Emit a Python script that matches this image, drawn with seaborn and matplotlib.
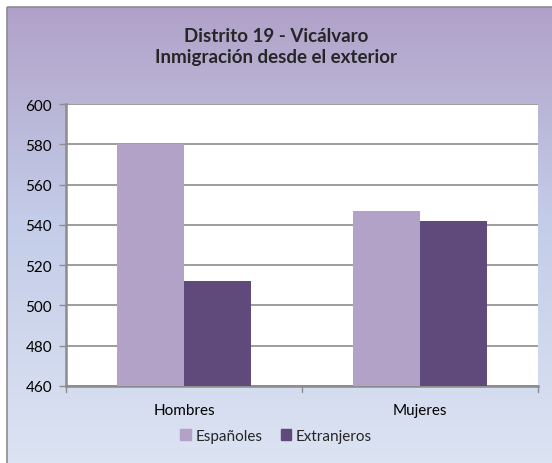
import matplotlib
matplotlib.use("Agg")
from matplotlib import pyplot as plt
from matplotlib.patches import Rectangle
import matplotlib.colors as mcolors
import numpy as np
import pandas as pd
import seaborn as sns

# datos
categorias = ["Hombres", "Mujeres"]
espanoles = [580, 547]
extranjeros = [512, 542]
series = ["Españoles", "Extranjeros"]
colores = ["#B3A2C7", "#604A7B"]

df = pd.DataFrame({
    "sexo": categorias * 2,
    "origen": [series[0]] * 2 + [series[1]] * 2,
    "valor": espanoles + extranjeros,
})

sns.set_style("white")
plt.rcParams["font.family"] = ["Lato", "DejaVu Sans"]

W, H = 552, 464
fig = plt.figure(figsize=(W / 100, H / 100), dpi=100)
fig.patch.set_facecolor("white")

# fondo degradado del grafico
bg = fig.add_axes([0, 0, 1, 1], zorder=-1)
cmap = mcolors.LinearSegmentedColormap.from_list(
    "fondo", [(0, "#B1A1C8"), (0.45, "#C3CCE8"), (1, "#DDE4F3")])
grad = np.linspace(0, 1, 256).reshape(-1, 1)
bg.imshow(grad, aspect="auto", cmap=cmap, extent=[7, W + 10, H + 10, 8])
bg.add_patch(Rectangle((7, 8), W, H, fill=False, edgecolor="#8C8C8C", lw=1.2))
bg.set_xlim(0, W)
bg.set_ylim(H, 0)
bg.axis("off")

# area de trazado (pixeles: izq 66, der 538, arriba 105, abajo 387)
left, right, top, bottom = 66, 538, 105, 387
ax = fig.add_axes([left / W, 1 - bottom / H, (right - left) / W, (bottom - top) / H])
ax.set_facecolor("white")

sns.barplot(data=df, x="sexo", y="valor", hue="origen", hue_order=series,
            palette=colores, width=0.57, gap=0, saturation=1, ax=ax,
            legend=False, zorder=3, linewidth=0)

ax.set_ylim(460, 600)
ax.set_yticks(range(460, 601, 20))
ax.set_xlim(-0.5, 1.5)
ax.grid(axis="y", color="#8C8C8C", linewidth=1.2, zorder=0)
ax.set_axisbelow(True)
for s in ["top", "right"]:
    ax.spines[s].set_visible(False)
for s in ["left", "bottom"]:
    ax.spines[s].set_color("#8C8C8C")
    ax.spines[s].set_linewidth(1.8)
ax.tick_params(axis="y", left=True, length=5, color="#8C8C8C", width=1,
               labelsize=11, pad=5, labelcolor="black")
ax.set_xticks([0, 1])
ax.set_xticklabels(categorias)
ax.tick_params(axis="x", bottom=False, labelsize=11, pad=9, labelcolor="black")
for xb in [-0.5, 0.5, 1.5]:
    ax.plot([xb, xb], [0, -0.02], transform=ax.get_xaxis_transform(),
            color="#8C8C8C", lw=1, clip_on=False)
ax.set_xlabel("")
ax.set_ylabel("")

fig.text(276 / W, 1 - 47 / H, "Distrito 19 - Vicálvaro\nInmigración desde el exterior",
         ha="center", va="center", fontsize=13.5, fontweight="bold", linespacing=1.35)

handles = [Rectangle((0, 0), 1, 1, color=c) for c in colores]
fig.legend(handles, series, loc="center", bbox_to_anchor=(276 / W, 1 - 437 / H),
           ncol=2, frameon=False, fontsize=11, handlelength=0.7, handleheight=0.7,
           handletextpad=0.3, columnspacing=1.2)

fig.savefig("out.png", dpi=100)
